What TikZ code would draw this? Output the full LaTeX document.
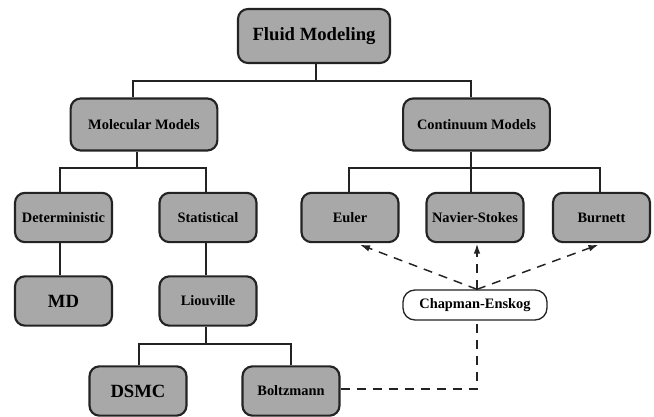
\documentclass[tikz,border=0pt]{standalone}
\usepackage{fontspec}
\setmainfont{Liberation Serif}[BoldFont={Liberation Serif Bold}]
\usetikzlibrary{arrows.meta,calc}
\definecolor{boxfill}{RGB}{168,168,168}
\definecolor{boxline}{RGB}{35,35,35}
\begin{document}
\begin{tikzpicture}[x=0.75pt,y=-0.75pt,
  box/.style={draw=boxline, line width=1.6pt, fill=boxfill, rounded corners=7.5pt,
    inner sep=0pt, text=black, font=\rmfamily\bfseries\fontsize{10.8}{12}\selectfont},
  bigbox/.style={box, font=\rmfamily\bfseries\fontsize{14}{16}\selectfont},
  topbox/.style={box, minimum width=110pt, minimum height=39pt},
  midbox/.style={box, minimum width=72.75pt, minimum height=37pt},
  whitebox/.style={draw=boxline, line width=1pt, fill=white, rounded corners=9pt,
    inner sep=0pt, minimum width=108pt, minimum height=22.5pt,
    font=\rmfamily\bfseries\fontsize{10.8}{12}\selectfont},
  link/.style={draw=boxline, line width=0.9pt},
  dlink/.style={draw=boxline, line width=1.1pt, dash pattern=on 6.75pt off 5.25pt},
  arr/.style={dlink, -{Latex[length=7.5pt,width=5pt]}},
]
\useasboundingbox (0,0) rectangle (654,417);

% nodes
\node[bigbox, minimum width=114pt, minimum height=40.5pt] (fluid) at (314,36) {Fluid Modeling};
\node[topbox] (mol) at (144,124.5) {Molecular Models};
\node[topbox] (cont) at (476.5,124.5) {Continuum Models};

\node[midbox] (det) at (63.5,217.5) {Deterministic};
\node[midbox] (stat) at (208,217.5) {Statistical};
\node[midbox] (euler) at (350,217.5) {Euler};
\node[midbox] (ns) at (475,217.5) {Navier-Stokes};
\node[midbox] (burn) at (601.5,217.5) {Burnett};

\node[midbox, bigbox] (md) at (63.5,301) {MD};
\node[midbox] (liou) at (208,301) {Liouville};

\node[midbox, bigbox] (dsmc) at (138,391) {DSMC};
\node[midbox] (boltz) at (291,391) {Boltzmann};

\node[whitebox] (chap) at (475,305) {Chapman-Enskog};

% tree connectors
\coordinate (b1) at (316,81);
\coordinate (b2) at (137,168);
\coordinate (b3) at (471,168);
\coordinate (b4) at (206,344);

\draw[link] (fluid.south -| b1) -- (b1);
\draw[link] ($(mol.north)+(-11,0)$) |- (b1) -| ($(cont.north)+(-5.5,0)$);

\draw[link] (mol.south -| b2) -- (b2);
\draw[link] ($(det.north)+(-3.5,0)$) |- (b2) -| ($(stat.north)+(-2,0)$);

\draw[link] (cont.south -| b3) -- (b3);
\draw[link] ($(ns.north)+(-4,0)$) -- (b3);
\draw[link] ($(euler.north)+(-1,0)$) |- (b3) -| ($(burn.north)+(-1.5,0)$);

\draw[link] ($(det.south)+(-3.5,0)$) -- ($(md.north)+(-3.5,0)$);
\draw[link] ($(stat.south)+(-2,0)$) -- ($(liou.north)+(-2,0)$);

\draw[link] (liou.south -| b4) -- (b4);
\draw[link] ($(dsmc.north)+(1,0)$) |- (b4) -| (boltz.north);

% Chapman-Enskog links
\draw[dlink] ($(boltz.east)+(0,-2)$) -| ($(chap.south)+(2,0)$);
\draw[arr] ($(chap.north)+(2,0)$) -- ($(euler.south)+(10,1.5)$);
\draw[arr] ($(chap.north)+(2,0)$) -- ($(ns.south)+(2,0.5)$);
\draw[arr] ($(chap.north)+(2,0)$) -- ($(burn.south)+(-3,1.5)$);
\end{tikzpicture}
\end{document}
